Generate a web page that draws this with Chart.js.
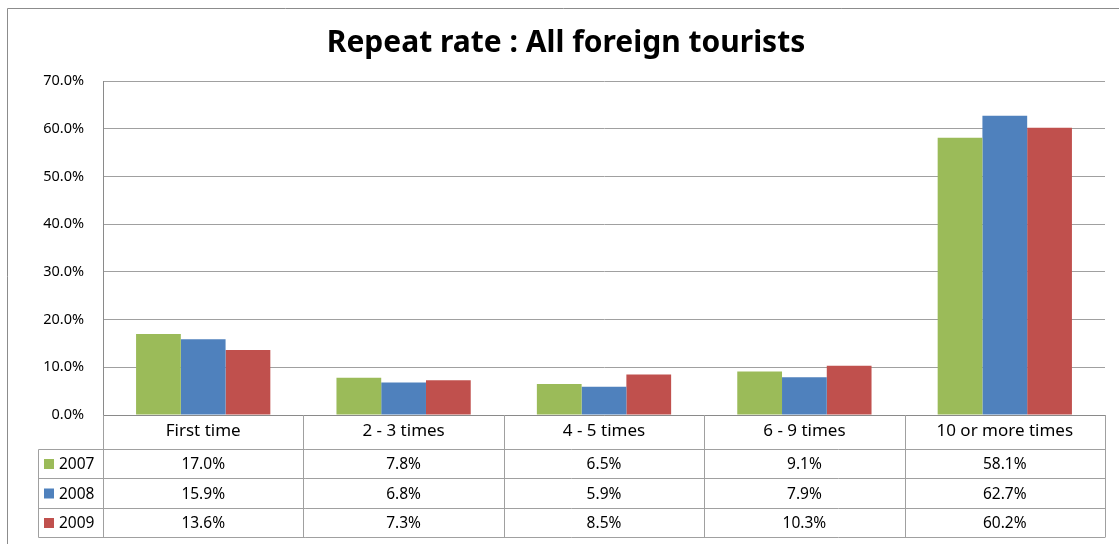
<!DOCTYPE html>
<html>
<head>
<meta charset="utf-8">
<script src="https://cdn.jsdelivr.net/npm/chart.js@4/dist/chart.umd.min.js"></script>
<style>
  html, body { margin: 0; padding: 0; background: #ffffff; }
  #wrap { width: 1119px; height: 544px; position: relative; }
</style>
</head>
<body>
<div id="wrap"><canvas id="chart" width="1119" height="544"></canvas></div>
<script>
// Share of visitors by number of visits to Japan
const categories = ['First time', '2 - 3 times', '4 - 5 times', '6 - 9 times', '10 or more times'];
const seriesNames = ['2007', '2008', '2009'];
const values2007 = [17.0, 7.8, 6.5, 9.1, 58.1];
const values2008 = [15.9, 6.8, 5.9, 7.9, 62.7];
const values2009 = [13.6, 7.3, 8.5, 10.3, 60.2];
const yTicks = [0, 10, 20, 30, 40, 50, 60, 70];
const chartTitle = 'Repeat rate : All foreign tourists';

const seriesValues = [values2007, values2008, values2009];
const seriesColors = ['#9BBB59', '#4F81BD', '#C0504D'];

const FONT = "'Noto Sans', sans-serif";
const LINE = '#a0a0a0';
const DARK_LINE = '#8a8a8a';
const pct = v => v.toFixed(1) + '%';

// Excel-style data table under the plot, plus title and frame
const tablePlugin = {
  id: 'dataTable',
  afterDraw(chart) {
    const ctx = chart.ctx;
    const area = chart.chartArea;
    const x = chart.scales.x;
    const n = categories.length;
    const step = (area.right - area.left) / n;
    const headerBottom = area.bottom + 34;
    const rowH = 29.3;
    const legendLeft = 38;

    ctx.save();
    // outer frame
    ctx.strokeStyle = '#8c8c8c';
    ctx.lineWidth = 1;
    ctx.beginPath();
    ctx.moveTo(7.5, 560); ctx.lineTo(7.5, 8.5); ctx.lineTo(1130, 8.5);
    ctx.stroke();

    // title
    ctx.fillStyle = '#000000';
    ctx.font = "bold 30px " + FONT;
    ctx.textAlign = 'center';
    ctx.textBaseline = 'middle';
    ctx.fillText(chartTitle, 566, 43);

    // table grid
    ctx.strokeStyle = LINE;
    ctx.beginPath();
    const ys = [];
    for (let r = 0; r <= seriesNames.length; r++) ys.push(Math.round(headerBottom + rowH * r) + 0.5);
    ys.forEach(yy => { ctx.moveTo(legendLeft + 0.5, yy); ctx.lineTo(area.right, yy); });
    for (let c = 0; c <= n; c++) {
      const xx = Math.round(area.left + step * c) + 0.5;
      ctx.moveTo(xx, area.bottom); ctx.lineTo(xx, ys[ys.length - 1]);
    }
    ctx.moveTo(legendLeft + 0.5, ys[0]); ctx.lineTo(legendLeft + 0.5, ys[ys.length - 1]);
    ctx.stroke();

    // rows: legend key and values
    ctx.font = "15.5px " + FONT;
    ctx.textBaseline = 'middle';
    for (let s = 0; s < seriesNames.length; s++) {
      const cy = (ys[s] + ys[s + 1]) / 2;
      ctx.fillStyle = seriesColors[s];
      ctx.fillRect(44, cy - 5, 10, 10);
      ctx.fillStyle = '#000000';
      ctx.textAlign = 'left';
      ctx.fillText(seriesNames[s], 59, cy + 1);
      ctx.textAlign = 'center';
      for (let c = 0; c < n; c++) {
        ctx.fillText(pct(seriesValues[s][c]), x.getPixelForValue(c), cy + 1);
      }
    }
    ctx.restore();
  }
};

new Chart(document.getElementById('chart'), {
  type: 'bar',
  data: {
    labels: categories,
    datasets: seriesNames.map((name, i) => ({
      label: name,
      data: seriesValues[i],
      backgroundColor: seriesColors[i],
      borderWidth: 0,
      categoryPercentage: 0.67,
      barPercentage: 1.0
    }))
  },
  options: {
    responsive: false,
    animation: false,
    layout: { padding: { top: 81, left: 0, right: 14, bottom: 95 } },
    plugins: {
      legend: { display: false },
      title: { display: false },
      tooltip: { enabled: false }
    },
    scales: {
      x: {
        grid: { display: false, drawTicks: false },
        border: { display: true, color: DARK_LINE, width: 1 },
        ticks: { color: '#000000', font: { family: FONT, size: 17 }, padding: 6, maxRotation: 0, autoSkip: false },
        afterFit: s => { s.height = 34; }
      },
      y: {
        min: 0,
        max: 70,
        afterBuildTicks: s => { s.ticks = yTicks.map(v => ({ value: v })); },
        grid: { color: LINE, drawTicks: false },
        border: { display: true, color: DARK_LINE, width: 1 },
        ticks: { color: '#000000', font: { family: FONT, size: 14.5 }, padding: 19, callback: v => pct(v) },
        afterFit: s => { s.width = 103; }
      }
    }
  },
  plugins: [tablePlugin]
});
</script>
</body>
</html>
